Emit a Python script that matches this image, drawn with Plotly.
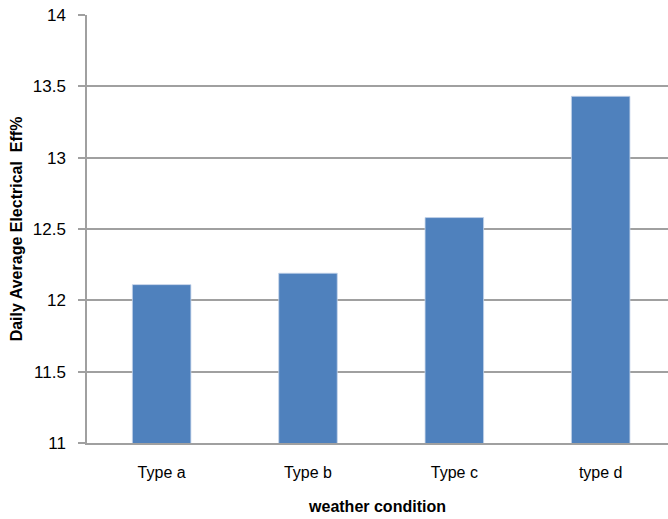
import plotly.graph_objects as go

categories = ["Type a", "Type b", "Type c", "type d"]
values = [12.11, 12.19, 12.58, 13.43]
y_ticks = [11, 11.5, 12, 12.5, 13, 13.5, 14]

fig = go.Figure(go.Bar(
    x=categories, y=values,
    marker=dict(color="#4f81bd", line=dict(color="#c5d4ea", width=0.8)),
    width=0.4,
))

font_family = "Liberation Sans, Arial, sans-serif"
fig.update_layout(
    width=668, height=519,
    margin=dict(l=87, r=0, t=15, b=76, autoexpand=False),
    paper_bgcolor="white", plot_bgcolor="white",
    showlegend=False,
    font=dict(family=font_family, size=14, color="#000000"),
    xaxis=dict(
        type="category",
        range=[-0.51, 3.46],
        automargin=False,
        showline=True, linecolor="#a0a0a0", linewidth=1.5,
        ticks="", showgrid=False,
        tickfont=dict(size=16),
        ticklabelstandoff=14,
        title=dict(text="<b>weather condition</b>", font=dict(size=16), standoff=21),
    ),
    yaxis=dict(
        range=[11, 14],
        automargin=False,
        tickvals=y_ticks,
        ticktext=[f"{v:g}" for v in y_ticks],
        showline=True, linecolor="#a0a0a0", linewidth=1.5,
        ticks="outside", ticklen=7, tickcolor="#a0a0a0", tickwidth=1.5,
        showgrid=True, gridcolor="#a0a0a0", gridwidth=1.5,
        tickfont=dict(size=17),
        ticklabelstandoff=9,
        zeroline=False,
        title=dict(text="<b>Daily Average Electrical  Eff%</b>", font=dict(size=16), standoff=6),
    ),
)

fig.write_html(
    "out.html",
    config={"displayModeBar": False},
    post_script="document.body.style.margin='0';document.body.style.overflow='hidden';",
)
